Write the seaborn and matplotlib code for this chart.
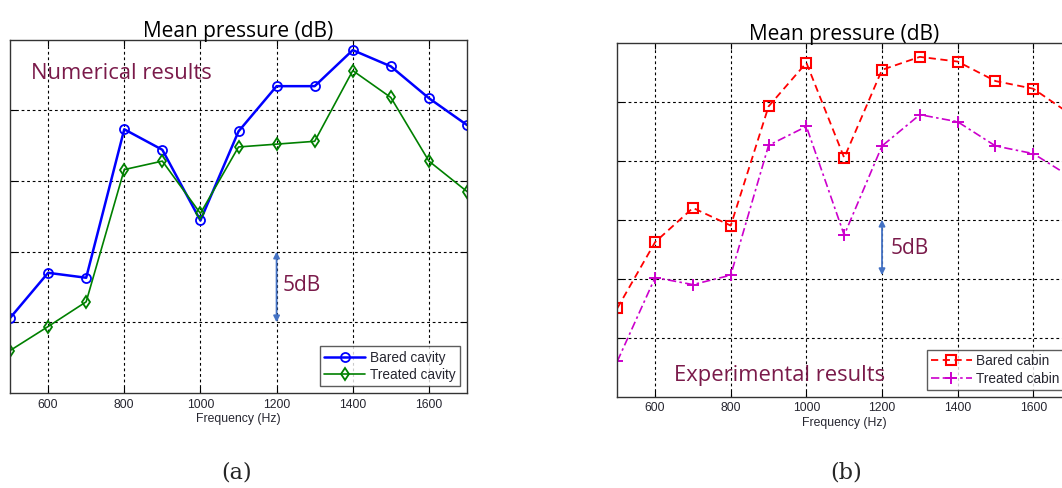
import numpy as np
import pandas as pd
import matplotlib
matplotlib.use("Agg")
import matplotlib.pyplot as plt
import seaborn as sns

# ---- data ----
freq = [500, 600, 700, 800, 900, 1000, 1100, 1200, 1300, 1400, 1500, 1600, 1700]
bared_cavity = [65.3, 68.5, 68.15, 78.65, 77.2, 72.2, 78.5, 81.7, 81.7, 84.25, 83.1, 80.85, 78.95]
treated_cavity = [63.0, 64.7, 66.45, 75.8, 76.4, 72.7, 77.4, 77.6, 77.8, 82.8, 80.9, 76.4, 74.25]
bared_cabin = [57.5, 63.1, 66.0, 64.5, 74.6, 78.3, 70.25, 77.7, 78.8, 78.4, 76.75, 76.1, 73.9]
treated_cabin = [53.0, 60.1, 59.5, 60.3, 71.3, 72.9, 63.7, 71.25, 73.9, 73.3, 71.25, 70.6, 68.6]
xticks = [600, 800, 1000, 1200, 1400, 1600]
left_yticks = [65, 70, 75, 80]
right_yticks = [55, 60, 65, 70, 75]

sns.set_theme(style="white")
plt.rcParams['font.family'] = ['Liberation Sans', 'DejaVu Sans']

fig = plt.figure(figsize=(10.62, 4.88), dpi=100)
axL = fig.add_axes([10/1062, 95/488, 457/1062, 353.5/488])
axR = fig.add_axes([617.3/1062, 91.3/488, 453.8/1062, 354/488])

anno_color = '#7A1A4A'
arrow_color = '#4472C4'
big_font = ['Open Sans', 'DejaVu Sans']

def style_axes(ax, yticks, ylim):
    ax.set_xlim(500, 1700)
    ax.set_ylim(*ylim)
    ax.set_xticks(xticks)
    ax.set_xticklabels([str(t) for t in xticks], fontsize=8.8, color='#262630')
    ax.set_yticks(yticks)
    ax.set_yticklabels([])
    ax.grid(True, color='black', linestyle=(0, (2.5, 2.5)), linewidth=0.8)
    ax.tick_params(direction='in', length=4, width=0.8, color='black',
                   top=True, right=True, bottom=True, left=True, pad=4)
    for s in ax.spines.values():
        s.set_color('#333333')
        s.set_linewidth(1.0)
    ax.set_xlabel('Frequency (Hz)', fontsize=8.8, color='#262630', labelpad=2)
    ax.set_ylabel('')
    ax.set_title('Mean pressure (dB)', fontsize=15, family=big_font, color='black', pad=2)

def style_legend(ax):
    leg = ax.legend(loc='lower right', bbox_to_anchor=(0.99, 0.012), fontsize=9.8,
                    frameon=True, fancybox=False, edgecolor='#333333', handlelength=3.0,
                    borderpad=0.3, labelspacing=0.25, handletextpad=0.35,
                    borderaxespad=0.2)
    leg.get_frame().set_linewidth(1.0)
    for t in leg.get_texts():
        t.set_color('#262630')

# Left panel
sns.lineplot(x=freq, y=bared_cavity, ax=axL, color='#0000FF', linewidth=1.8,
             marker='o', markersize=6.5, markerfacecolor='none', markeredgecolor='#0000FF',
             markeredgewidth=1.3, label='Bared cavity')
sns.lineplot(x=freq, y=treated_cavity, ax=axL, color='#008000', linewidth=1.2,
             marker='d', markersize=6.5, markerfacecolor='none', markeredgecolor='#008000',
             markeredgewidth=1.3, label='Treated cavity')
style_axes(axL, left_yticks, (60, 85))
style_legend(axL)
axL.text(0.045, 0.905, 'Numerical results', transform=axL.transAxes, fontsize=15.8,
         color=anno_color, family=big_font, va='center', ha='left')
axL.annotate('', xy=(1200, 70), xytext=(1200, 65),
             arrowprops=dict(arrowstyle='<|-|>', color=arrow_color, lw=1.3,
                             mutation_scale=9, shrinkA=0, shrinkB=0))
axL.text(1216, 67.6, '5dB', fontsize=15, color=anno_color,
         family=big_font, va='center', ha='left')

# Right panel
sns.lineplot(x=freq, y=bared_cabin, ax=axR, color='#FF0000', linewidth=1.3,
             linestyle=(0, (4, 2.5)), marker='s', markersize=7, markerfacecolor='none',
             markeredgecolor='#FF0000', markeredgewidth=1.5, label='Bared cabin')
sns.lineplot(x=freq, y=treated_cabin, ax=axR, color='#CC00CC', linewidth=1.2,
             linestyle=(0, (5, 2, 1.5, 2)), marker='+', markersize=8, markerfacecolor='none',
             markeredgecolor='#CC00CC', markeredgewidth=1.4, label='Treated cabin')
style_axes(axR, right_yticks, (50, 80))
style_legend(axR)
axR.text(0.125, 0.06, 'Experimental results', transform=axR.transAxes, fontsize=15.8,
         color=anno_color, family=big_font, va='center', ha='left')
axR.annotate('', xy=(1200, 65), xytext=(1200, 60.3),
             arrowprops=dict(arrowstyle='<|-|>', color=arrow_color, lw=1.3,
                             mutation_scale=9, shrinkA=0, shrinkB=0))
axR.text(1222, 62.6, '5dB', fontsize=15, color=anno_color,
         family=big_font, va='center', ha='left')

fig.text(237/1062, 1 - 472/488, '(a)', fontsize=16, family=['DejaVu Serif'],
         ha='center', va='center')
fig.text(846/1062, 1 - 472/488, '(b)', fontsize=16, family=['DejaVu Serif'],
         ha='center', va='center')

fig.savefig('out.png', dpi=100)
